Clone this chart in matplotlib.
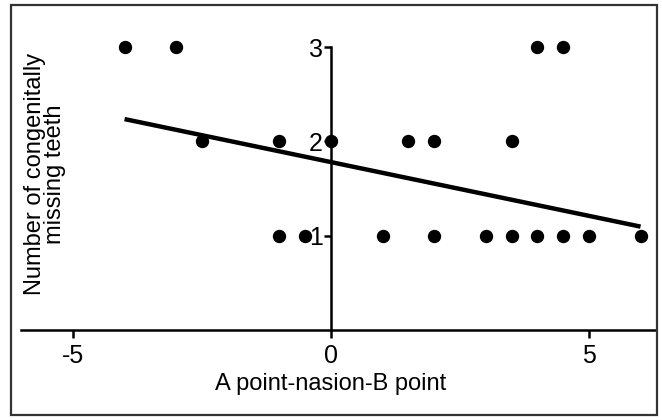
import matplotlib
matplotlib.use("Agg")
import matplotlib.pyplot as plt
from matplotlib.patches import Rectangle
import numpy as np

plt.rcParams['font.family'] = ['Liberation Sans', 'DejaVu Sans']

# Data
anb = [-4, -3, 4, 4.5,
       -2.5, -1, 0, 1.5, 2, 3.5,
       -1, -0.5, 1, 2, 3, 3.5, 4, 4.5, 5, 6]
missing = [3, 3, 3, 3,
           2, 2, 2, 2, 2, 2,
           1, 1, 1, 1, 1, 1, 1, 1, 1, 1]
fit_slope = -0.114
fit_intercept = 1.78
fit_range = [-4, 6]
x_ticks = [-5, 0, 5]
y_ticks = [1, 2, 3]

fig = plt.figure(figsize=(6.62, 4.20), dpi=100)
fig.patches.append(Rectangle((11/662, 5/420), 646/662, 410/420, transform=fig.transFigure,
                             fill=False, edgecolor='#333333', linewidth=1.6, zorder=0))

ax = fig.add_axes([21.4/662, 90/420, 634.6/662, 3.3*94.33/420])
ax.set_xlim(-6, 6.3)
ax.set_ylim(0, 3.3)

ax.plot(anb, missing, 'o', color='black', markersize=8.6, zorder=3, clip_on=False)
fx = np.array(fit_range, dtype=float)
ax.plot(fx, fit_intercept + fit_slope * fx, color='black', linewidth=3.2, solid_capstyle='butt', zorder=2)

for s in ['top', 'right']:
    ax.spines[s].set_visible(False)
ax.spines['left'].set_position(('data', 0))
ax.spines['left'].set_bounds(0, 3)
ax.spines['left'].set_linewidth(1.8)
ax.spines['bottom'].set_linewidth(1.8)

ax.set_xticks(x_ticks)
ax.set_xticklabels([str(t) for t in x_ticks])
ax.set_yticks(y_ticks)
ax.set_yticklabels([str(t) for t in y_ticks])
ax.tick_params(axis='x', direction='out', length=6, width=1.8, labelsize=18, pad=4)
ax.tick_params(axis='y', direction='out', length=5, width=1.8, labelsize=18, pad=1)

ax.set_xlabel('A point-nasion-B point', fontsize=17)
ax.set_ylabel('Number of congenitally\nmissing teeth', fontsize=17, linespacing=0.85)
ax.yaxis.label.set_va('center')
ax.xaxis.label.set_va('center')
ax.yaxis.set_label_coords((45 - 21.4) / 634.6, 0.5)
ax.xaxis.set_label_coords((0 + 6) / 12.3, -(384 - 330) / (3.3 * 94.33))
ax.patch.set_alpha(0)

fig.savefig('out.png', dpi=100)
